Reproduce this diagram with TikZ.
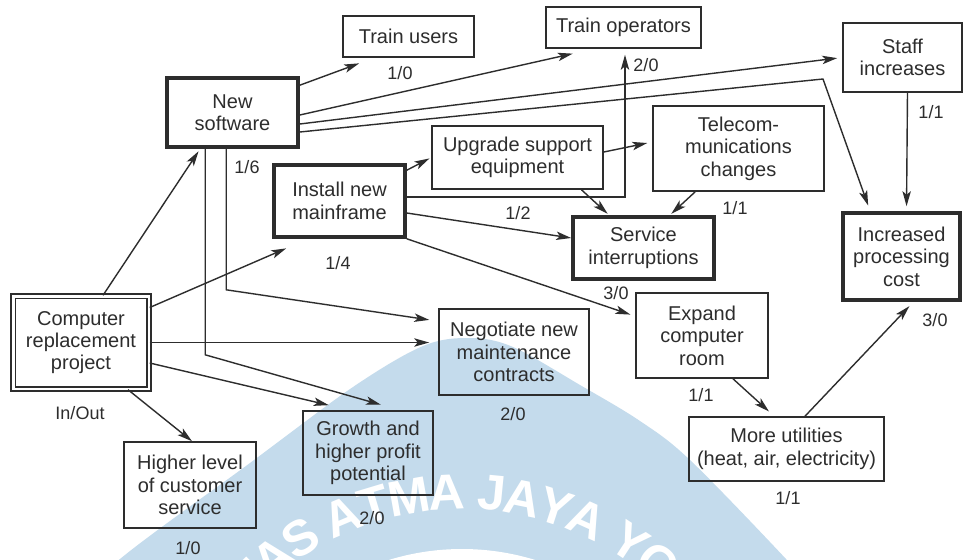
\documentclass[tikz,border=0pt]{standalone}
\usepackage{fontspec}
\setmainfont{Liberation Sans}
\usetikzlibrary{arrows.meta}

\definecolor{ink}{RGB}{45,45,45}
\definecolor{seal}{RGB}{196,219,236}

\tikzset{
  box/.style={draw=ink, line width=0.8pt, align=center, inner sep=0pt, text=ink},
  heavybox/.style={box, line width=1.8pt},
  twinbox/.style={box, double=white, double distance=1.3pt, line width=0.9pt},
  link/.style={draw=ink, line width=0.7pt, -{Stealth[length=7.5pt,width=4.2pt,inset=1.8pt]}},
  count/.style={font=\fontsize{9}{10}\selectfont, text=ink, inner sep=0pt},
  sealletter/.style={font=\fontsize{25}{25}\selectfont\bfseries, text=white, inner sep=0pt},
}

\begin{document}
\begin{tikzpicture}[x=0.5pt, y=-0.5pt, font=\fontsize{10}{11.2}\selectfont]
      \useasboundingbox (0,0) rectangle (966,559);
      \fill[white] (0,0) rectangle (966,559);

      % seal behind the chart
      \begin{scope}
        \clip (0,0) rectangle (966,559);
        \coordinate (sealc) at (462,797);
        \fill[seal] plot[smooth, tension=0.55] coordinates {(60,620) (120,559) (250,463) (353,387)
          (423,346) (470,338) (513,347) (580,385) (640,421) (690,460) (786,559) (840,620)} -- cycle;
        \fill[white] (sealc) circle (248);
        \foreach \ch/\ang [count=\i] in {T/134.6, A/128.4, S/122, A/113, T/106.8, M/100.1, A/92.9,
            J/84.4, A/78.5, Y/72.1, A/65.7, Y/56.7, O/50}
          \path (sealc) ++(-\ang:305) node[sealletter, rotate=\ang-90] (seal\i) {\ch};
      \end{scope}

      % boxes
      \node[box, minimum width=65.5pt, minimum height=20.5pt] (trainusers) at (408.5,36.5) {Train users};
      \node[heavybox, minimum width=65.5pt, minimum height=34.5pt] (newsw) at (232.5,112.5) {New\\software};
      \node[heavybox, minimum width=65.5pt, minimum height=36pt] (mainframe) at (339.5,201) {Install new\\mainframe};
      \node[box, minimum width=85.5pt, minimum height=31.5pt] (upgrade) at (517.5,157.5) {Upgrade support\\equipment};
      \node[box, minimum width=77.5pt, minimum height=20.5pt] (trainops) at (623.5,27.5) {Train operators};
      \node[box, minimum width=59.5pt, minimum height=34.5pt] (staff) at (902.5,57.5) {Staff\\increases};
      \node[box, minimum width=85.5pt, minimum height=42.5pt] (telecom) at (738.5,148.5) {Telecom-\\munications\\changes};
      \node[heavybox, minimum width=70.5pt, minimum height=31pt] (service) at (643.5,248) {Service\\interruptions};
      \node[heavybox, minimum width=58.5pt, minimum height=43.5pt] (proccost) at (901.5,256.5) {Increased\\processing\\cost};
      \node[box, minimum width=66pt, minimum height=42.5pt] (expand) at (702,335.5) {Expand\\computer\\room};
      \node[box, minimum width=97.5pt, minimum height=32pt] (utilities) at (786.5,449) {More utilities\\(heat, air, electricity)};
      \node[box, minimum width=75pt, minimum height=43pt] (negotiate) at (514,352) {Negotiate new\\maintenance\\contracts};
      \node[twinbox, minimum width=67.8pt, minimum height=46.3pt] (project) at (81,342.5) {Computer\\replacement\\project};
      \node[box, minimum width=66pt, minimum height=43pt] (higher) at (190,485) {Higher level\\of customer\\service};
      \node[box, minimum width=65pt, minimum height=42pt] (growth) at (368,453) {Growth and\\higher profit\\potential};

      % in/out counts
      \node[count] (n-trainusers) at (400,73) {1/0};
      \node[count] (n-newsw) at (247,167) {1/6};
      \node[count] (n-mainframe) at (338,263) {1/4};
      \node[count] (n-upgrade) at (518,213) {1/2};
      \node[count] (n-trainops) at (646,65) {2/0};
      \node[count] (n-staff) at (931,112) {1/1};
      \node[count] (n-telecom) at (735,208) {1/1};
      \node[count] (n-service) at (616,293) {3/0};
      \node[count] (n-proccost) at (935,320) {3/0};
      \node[count] (n-expand) at (701,395) {1/1};
      \node[count] (n-utilities) at (788,498) {1/1};
      \node[count] (n-negotiate) at (513,414) {2/0};
      \node[count] (n-project) at (80,413) {In/Out};
      \node[count] (n-higher) at (188,548) {1/0};
      \node[count] (n-growth) at (372,518) {2/0};

      \coordinate (kink) at (823,79);

      % links
      \draw[link, shorten >=1.5pt] ([xshift=11pt]project.north) -- ([xshift=17.5pt]newsw.south west);
      \draw[link, shorten >=12pt] ([yshift=17.5pt]project.east) -- ([xshift=18pt]mainframe.south west);
      \draw[link, shorten >=4.5pt] (project.east) -- (project.east -| negotiate.west);
      \draw[link, shorten >=11pt] ([yshift=-10.25pt]project.east) -- ([xshift=24pt]growth.north west);
      \draw[link] ([xshift=23.5pt]project.south) -- ([xshift=1pt]higher.north);

      \draw[link, shorten >=8pt] ([yshift=-4.5pt]newsw.north east) -- ([xshift=16pt]trainusers.south west);
      \draw[link, shorten >=11pt] ([yshift=-1.25pt]newsw.east) -- ([xshift=24.5pt]trainops.south west);
      \draw[link, shorten >=2.5pt] ([yshift=-5.75pt]newsw.east) -- (staff.west);
      \draw[link, shorten >=3pt] ([yshift=-9.75pt]newsw.east) -- (kink) -- ([xshift=14.5pt]proccost.north west);
      \draw[link, shorten >=10pt] ([xshift=20pt]newsw.south west) -- ++(0,206) -- ([xshift=49pt]growth.north west);
      \draw[link, shorten >=4.5pt] ([xshift=30.5pt]newsw.south west) -- ++(0,141) -- ([yshift=-6.5pt]negotiate.north west);

      \draw[link, shorten >=1pt] ([yshift=-3.5pt]mainframe.north east) -- (upgrade.west);
      \draw[link] ([yshift=-6pt]mainframe.east) -- ([yshift=5pt]service.west);
      \draw[link, shorten >=2.5pt] (mainframe.south east) -- ([yshift=-12pt]expand.north west);
      \draw[link, shorten >=3pt] ([yshift=2pt]mainframe.east) -| ([xshift=.75pt]trainops.south);

      \draw[link, shorten >=2.5pt] ([yshift=2.75pt]upgrade.east) -- ([yshift=3.25pt]telecom.west);
      \draw[link, shorten >=1pt] ([xshift=32pt]upgrade.south) -- ([xshift=19pt]service.north west);
      \draw[link, shorten >=1pt] ([xshift=21.5pt]telecom.south west) -- ([xshift=-23pt]service.north east);
      \draw[link, shorten >=2.5pt] ([xshift=2.5pt]staff.south) -- ([xshift=2.5pt]proccost.north);
      \draw[link, shorten >=3.5pt] ([xshift=15.5pt]expand.south) -- ([xshift=43pt]utilities.north west);
      \draw[link, shorten >=3pt] ([xshift=9.25pt]utilities.north) -- ([xshift=6pt]proccost.south);
\end{tikzpicture}
\end{document}
